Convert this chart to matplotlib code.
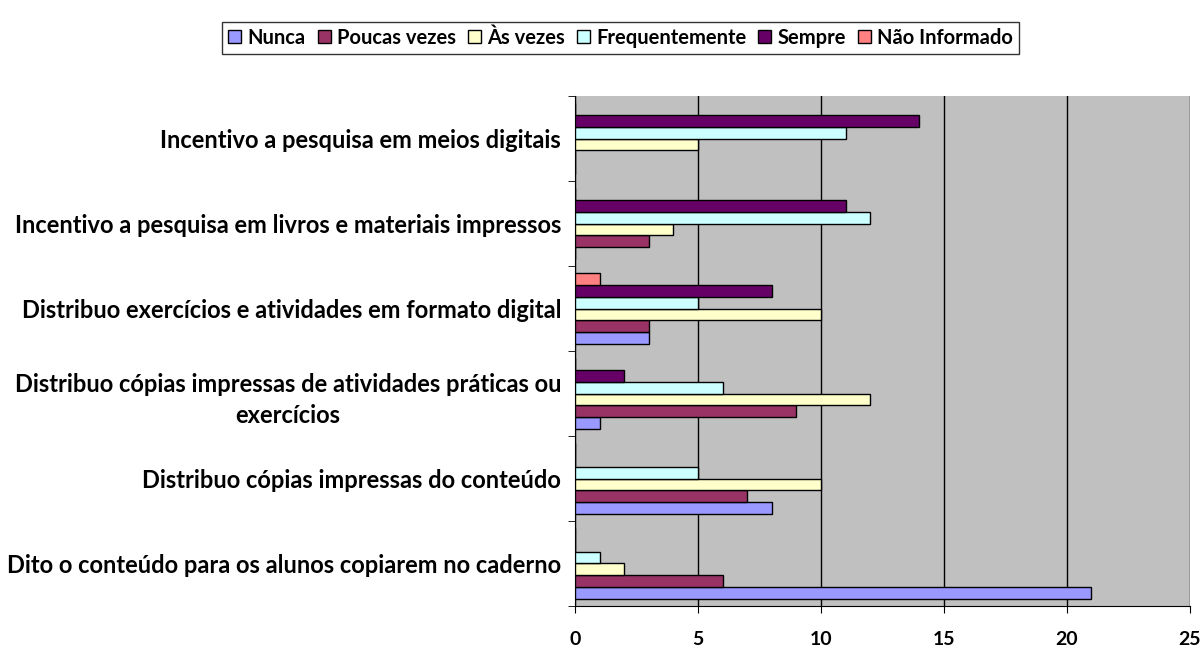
import numpy as np
import matplotlib.pyplot as plt

plt.rcParams['font.family'] = ['Lato', 'DejaVu Sans']

categories = [
    "Dito o conteúdo para os alunos copiarem no caderno",
    "Distribuo cópias impressas do conteúdo",
    "Distribuo cópias impressas de atividades práticas ou\nexercícios",
    "Distribuo exercícios e atividades em formato digital",
    "Incentivo a pesquisa em livros e materiais impressos",
    "Incentivo a pesquisa em meios digitais",
]
series_names = ["Nunca", "Poucas vezes", "Às vezes", "Frequentemente", "Sempre", "Não Informado"]
nunca = [21, 8, 1, 3, 0, 0]
poucas = [6, 7, 9, 3, 3, 0]
as_vezes = [2, 10, 12, 10, 4, 5]
frequente = [1, 5, 6, 5, 12, 11]
sempre = [0, 0, 2, 8, 11, 14]
nao_inf = [0, 0, 0, 1, 0, 0]
values = [nunca, poucas, as_vezes, frequente, sempre, nao_inf]
colors = ["#9999FF", "#993366", "#FFFFCC", "#CCFFFF", "#660066", "#FF8080"]

fig = plt.figure(figsize=(12.03, 6.52), dpi=100)
ax = fig.add_axes([0.478, 0.0706, 0.511, 0.782])
ax.set_facecolor("#C0C0C0")

y = np.arange(len(categories))
h = 0.14
for i, (name, vals, c) in enumerate(zip(series_names, values, colors)):
    ax.barh(y + (i - 2.5) * h, vals, height=h, color=c, edgecolor="black",
            linewidth=1, label=name, zorder=3)

ax.set_xlim(0, 25)
ax.set_ylim(-0.5, len(categories) - 0.5)
ax.set_xticks([0, 5, 10, 15, 20, 25])
ax.set_xticklabels(["0", "5", "10", "15", "20", "25"], fontsize=14, fontweight="bold")
ax.xaxis.grid(True, color="black", linewidth=1, zorder=1)
ax.set_axisbelow(True)

ax.set_yticks(y)
ax.set_yticklabels(categories, fontsize=17, fontweight="bold")
for lbl in ax.get_yticklabels():
    lbl.set_multialignment("center")
    lbl.set_linespacing(1.45)
ax.set_yticks(np.arange(-0.5, len(categories)), minor=True)
ax.tick_params(axis="y", which="major", length=0, pad=10)
ax.tick_params(axis="y", which="minor", length=5, direction="out")
ax.tick_params(axis="x", length=5, direction="out", pad=13)

for s in ["top", "right"]:
    ax.spines[s].set_visible(False)

leg = fig.legend(loc="center", bbox_to_anchor=(0.516, 0.942), ncol=6, frameon=True,
                 fancybox=False, edgecolor="black", handlelength=0.65, handleheight=0.65,
                 handletextpad=0.3, columnspacing=0.6, borderpad=0.3,
                 prop={"weight": "bold", "size": 14.5})
leg.get_frame().set_linewidth(1)

fig.savefig("out.png", dpi=100)
